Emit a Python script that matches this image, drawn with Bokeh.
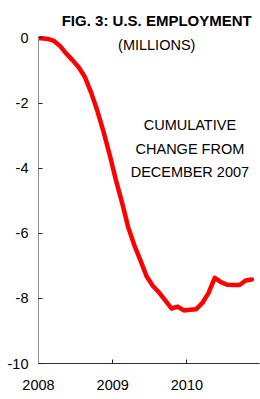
from bokeh.plotting import figure
from bokeh.models import Range1d, FixedTicker, Label, ColumnDataSource
from bokeh.core.properties import value
from bokeh.embed import file_html
from bokeh.resources import INLINE

# ---- data (cumulative change in US payroll employment since Dec 2007, millions)
months = ["2007-12",
          "2008-01", "2008-02", "2008-03", "2008-04", "2008-05", "2008-06",
          "2008-07", "2008-08", "2008-09", "2008-10", "2008-11", "2008-12",
          "2009-01", "2009-02", "2009-03", "2009-04", "2009-05", "2009-06",
          "2009-07", "2009-08", "2009-09", "2009-10", "2009-11", "2009-12",
          "2010-01", "2010-02", "2010-03", "2010-04", "2010-05", "2010-06",
          "2010-07", "2010-08", "2010-09", "2010-10", "2010-11"]
change = [0.0,
          -0.01, -0.03, -0.09, -0.25, -0.48, -0.68,
          -0.90, -1.20, -1.67, -2.23, -2.87, -3.58,
          -4.35, -5.05, -5.81, -6.37, -6.84, -7.33,
          -7.62, -7.82, -8.06, -8.31, -8.25, -8.37,
          -8.35, -8.33, -8.14, -7.83, -7.37, -7.50,
          -7.58, -7.59, -7.59, -7.45, -7.42]
y_ticks = [0, -2, -4, -6, -8, -10]
y_labels = ["0", "-2", "-4", "-6", "-8", "-10"]
x_ticks = [2008, 2009, 2010]
x_labels = ["2008", "2009", "2010"]
title_text = "FIG. 3: U.S. EMPLOYMENT"
subtitle_text = "(MILLIONS)"
note_lines = ["CUMULATIVE", "CHANGE FROM", "DECEMBER 2007"]

# mid-month decimal year positions
xs = [int(m[:4]) + (int(m[5:]) - 0.5) / 12 for m in months]

FONT = "Liberation Sans"

p = figure(width=260, height=399, title=None,
           x_range=Range1d(2008, 2010.978), y_range=Range1d(-10, 1.152),
           output_backend="svg", toolbar_location=None,
           min_border_left=38, min_border_right=1,
           min_border_top=0, min_border_bottom=36)
p.outline_line_color = None
p.xgrid.visible = False
p.ygrid.visible = False
p.background_fill_color = "white"
p.border_fill_color = "white"

p.line(xs, change, line_color="#ff0000", line_width=4.5,
       line_join="round", line_cap="round")

for ax in (p.xaxis[0], p.yaxis[0]):
    ax.axis_line_width = 1
    ax.major_tick_line_color = "#202020"
    ax.major_tick_in = 4
    ax.major_tick_out = 0
    ax.minor_tick_line_color = None
    ax.major_label_text_font = FONT
    ax.major_label_text_font_size = "14.5px"
    ax.major_label_text_color = "black"

p.xaxis[0].axis_line_color = "#303030"
p.yaxis[0].axis_line_color = "#909090"
p.xaxis[0].ticker = FixedTicker(ticks=x_ticks)
p.xaxis[0].major_label_overrides = {float(t): s for t, s in zip(x_ticks, x_labels)}
p.xaxis[0].major_label_standoff = 16
p.yaxis[0].ticker = FixedTicker(ticks=y_ticks)
p.yaxis[0].major_label_overrides = {float(t): s for t, s in zip(y_ticks, y_labels)}
p.yaxis[0].major_label_standoff = 10
p.yaxis[0].bounds = (-10, 0)

p.add_layout(Label(x=2009.593, y=0.54, text=title_text, text_font=FONT,
                   text_font_size="15px", text_font_style="bold",
                   text_align="center", text_baseline="middle",
                   text_color="black"))
p.add_layout(Label(x=2009.593, y=-0.23, text=subtitle_text, text_font=FONT,
                   text_font_size="14.5px", text_align="center",
                   text_baseline="middle", text_color="black"))

note_y = [-2.66, -3.40, -4.13]
src = ColumnDataSource(dict(x=[2010.04] * 3, y=note_y, t=note_lines))
p.text(x="x", y="y", text="t", source=src, text_font=value(FONT),
       text_font_size="14.5px", text_align="center", text_baseline="middle",
       text_color="black")

open("out.html", "w").write(file_html(p, INLINE))
